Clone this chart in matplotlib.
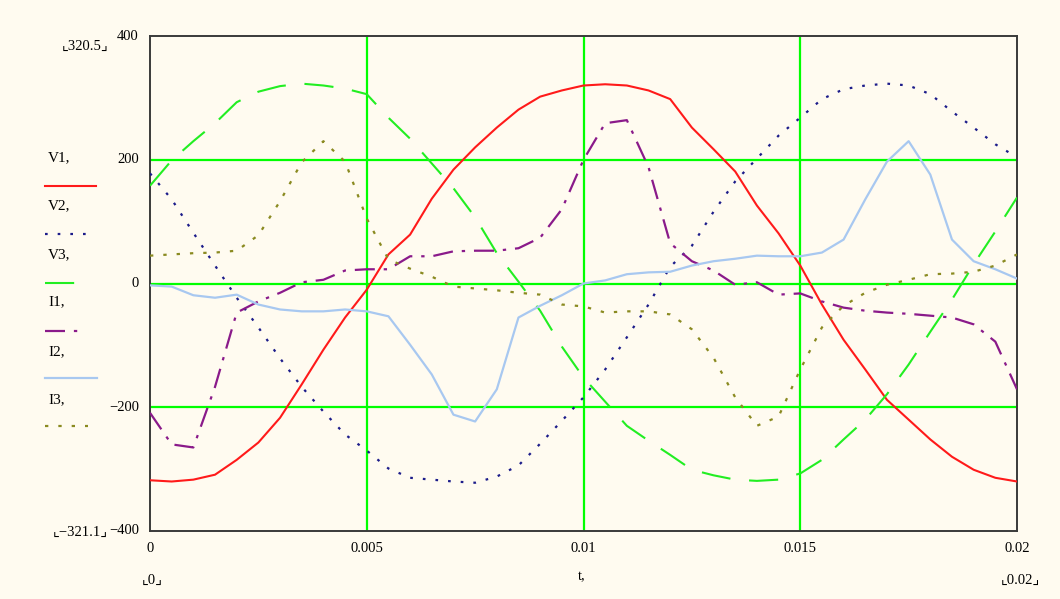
import matplotlib
matplotlib.use("Agg")
import matplotlib.pyplot as plt
from matplotlib.lines import Line2D
import numpy as np

# ---------------- data ----------------
t = [i * 0.0005 for i in range(41)]

V1 = [-318, -320, -317, -309, -285, -257, -217, -163, -107, -55,
      -10, 47, 79, 137, 184, 220, 252, 281, 302, 312,
      320, 322, 320, 312, 298, 252, 217, 181, 126, 81,
      29, -34, -91, -139, -188, -220, -252, -280, -301, -314, -320]

V2 = [178, 136, 82, 29, -23, -71, -121, -167, -207, -244,
      -270, -299, -314, -317, -320, -322, -312, -294, -259, -222,
      -184, -139, -87, -34, 27, 61, 116, 165, 202, 239,
      268, 298, 314, 320, 323, 320, 306, 278, 252, 225, 204]

V3 = [158, 199, 230, 259, 293, 310, 319, 323, 320, 315,
      306, 268, 234, 194, 154, 107, 49, 3, -44, -102,
      -152, -191, -230, -254, -277, -301, -310, -317, -319, -317,
      -307, -285, -252, -220, -179, -131, -78, -26, 31, 84, 139]

I1 = [-209, -260, -265, -167, -47, -29, -15, 2, 6, 21,
      23, 23, 44, 44, 52, 53, 53, 57, 74, 120,
      200, 259, 264, 188, 65, 36, 21, -2, 2, -18,
      -16, -29, -39, -44, -47, -49, -52, -55, -66, -94, -171]

I2 = [-3, -5, -19, -23, -18, -34, -42, -45, -45, -42,
      -45, -53, -99, -147, -212, -223, -171, -55, -36, -19,
      0, 5, 15, 18, 19, 29, 36, 40, 45, 44,
      44, 50, 71, 136, 197, 230, 176, 71, 36, 23, 8]

I3 = [45, 47, 49, 50, 53, 78, 133, 196, 230, 197,
      105, 39, 24, 11, -5, -8, -11, -15, -18, -34,
      -37, -47, -45, -45, -50, -74, -120, -184, -230, -215,
      -139, -71, -36, -15, -2, 6, 15, 16, 19, 29, 47]

x_ticks = [0, 0.005, 0.01, 0.015, 0.02]
x_tick_labels = ["0", "0.005", "0.01", "0.015", "0.02"]
y_ticks = [-400, -200, 0, 200, 400]
y_tick_labels = ["\u2212400", "\u2212200", "0", "200", "400"]
legend_labels = ["V1,", "V2,", "V3,", "I1,", "I2,", "I3,"]

# ---------------- figure ----------------
W, H = 1060, 599
bg = "#fffbf0"
fig = plt.figure(figsize=(W / 100, H / 100), dpi=100, facecolor=bg)
ax = fig.add_axes([150 / W, 1 - 531 / H, (1017 - 150) / W, (531 - 36) / H])
ax.set_facecolor(bg)
serif = "Liberation Serif"

# grid
for gx in [0.005, 0.01, 0.015]:
    ax.axvline(gx, color="#00ff00", lw=1.6, zorder=1)
for gy in [-200, 0, 200]:
    ax.axhline(gy, color="#00ff00", lw=1.6, zorder=1)

styles = [
    dict(color="#ff1a1a", lw=1.5, ls="-"),
    dict(color="#1c1c8a", lw=1.6, ls=(0, (1.2, 4.5))),
    dict(color="#22ee22", lw=1.5, ls=(0, (14, 9))),
    dict(color="#8a1a8a", lw=1.6, ls=(0, (9, 4, 1.5, 4))),
    dict(color="#a8c8f0", lw=1.6, ls="-"),
    dict(color="#8a8a20", lw=1.6, ls=(0, (1.5, 4.5))),
]
series = [V1, V2, V3, I1, I2, I3]
for s, st in zip(series, styles):
    ax.plot(t, s, zorder=3, **st)

ax.set_xlim(0, 0.02)
ax.set_ylim(-400, 400)
ax.set_xticks(x_ticks)
ax.set_xticklabels(x_tick_labels, fontfamily=serif, fontsize=10.5)
ax.set_yticks(y_ticks)
ax.set_yticklabels(y_tick_labels, fontfamily=serif, fontsize=10.5)
ax.tick_params(length=0, pad=8)
for lab in ax.get_yticklabels():
    lab.set_verticalalignment("center")
for sp in ax.spines.values():
    sp.set_color("#3a3a3a")
    sp.set_linewidth(1.4)

# Mathcad style extra annotations
def ftext(x, y, s, **kw):
    fig.text(x / W, 1 - y / H, s, fontfamily=[serif, "DejaVu Sans"], fontsize=10.5,
             ha="center", va="center", **kw)

ftext(85, 46, "\u231e320.5\u231f")
ftext(80, 532, "\u231e\u2212321.1\u231f")
ftext(152, 580, "\u231e0\u231f")
ftext(1020, 580, "\u231e0.02\u231f")
ftext(582, 577, "t,")

# legend (manual, Mathcad style)
text_y = [158, 206, 255, 302, 352, 400]
line_y = [186, 234, 283, 331, 378, 426]
line_x1 = [96, 88, 82, 82, 97, 88]
for lab, ty, ly, x1, st in zip(legend_labels, text_y, line_y, line_x1, styles):
    fig.text(48 / W, 1 - ty / H, lab, fontfamily=serif, fontsize=11,
             ha="left", va="center")
    fig.add_artist(Line2D([45 / W, x1 / W], [1 - ly / H, 1 - ly / H],
                          transform=fig.transFigure, **st))

fig.savefig("out.png", dpi=100, facecolor=bg)
